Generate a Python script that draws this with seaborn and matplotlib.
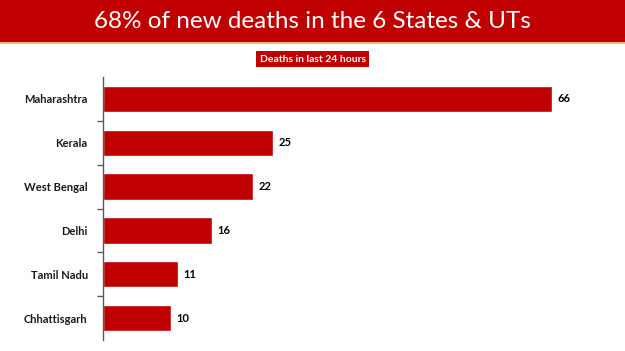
import numpy as np
import pandas as pd
import seaborn as sns
import matplotlib
import matplotlib.pyplot as plt
from matplotlib.ticker import FixedLocator

states = ["Maharashtra", "Kerala", "West Bengal", "Delhi", "Tamil Nadu", "Chhattisgarh"]
deaths = [66, 25, 22, 16, 11, 10]
title = "68% of new deaths in the 6 States & UTs"
subtitle = "Deaths in last 24 hours"

red = "#C00000"

sns.set_theme(style="white")
plt.rcParams['font.family'] = ['Lato', 'DejaVu Sans']

df = pd.DataFrame({"state": states, "deaths": deaths})

fig = plt.figure(figsize=(6.25, 3.51), dpi=100)
fig.patch.set_facecolor("white")

# title band
fig.patches.append(matplotlib.patches.Rectangle((0, 1 - 42 / 351), 1, 42 / 351,
                                                transform=fig.transFigure,
                                                facecolor=red, edgecolor="none"))
fig.patches.append(matplotlib.patches.Rectangle((0, 1 - 44 / 351), 1, 2 / 351,
                                                transform=fig.transFigure,
                                                facecolor="#F4B183", edgecolor="none"))
fig.text(0.5, 1 - 21 / 351, title, ha="center", va="center", color="white", fontsize=17.5)
fig.text(0.5, 1 - 59 / 351, subtitle, ha="center", va="center", color="white",
         fontsize=7.5, fontweight="bold",
         bbox=dict(boxstyle="square,pad=0.35", facecolor=red, edgecolor="none"))

ax = fig.add_axes([103 / 625, 1 - 340 / 351, 497 / 625, 263 / 351])
sns.barplot(data=df, x="deaths", y="state", color=red, saturation=1,
            width=0.6, ax=ax)
ax.set_xlim(0, 73)
ax.set_xlabel("")
ax.set_ylabel("")
ax.set_xticks([])
for s in ["top", "right", "bottom"]:
    ax.spines[s].set_visible(False)
ax.spines["left"].set_color("#595959")
ax.spines["left"].set_linewidth(1)
ax.yaxis.set_minor_locator(FixedLocator(np.arange(0.5, len(states) - 1, 1)))
ax.tick_params(axis="y", which="major", length=0, pad=11, labelsize=8)
ax.tick_params(axis="y", which="minor", length=4, width=1, color="#595959", left=True)
for lab in ax.get_yticklabels():
    lab.set_fontweight("bold")
    lab.set_color("#1a1a1a")
for c in ax.containers:
    ax.bar_label(c, padding=4, fontsize=8, fontweight="bold", color="black")

fig.savefig("out.png", dpi=100)
